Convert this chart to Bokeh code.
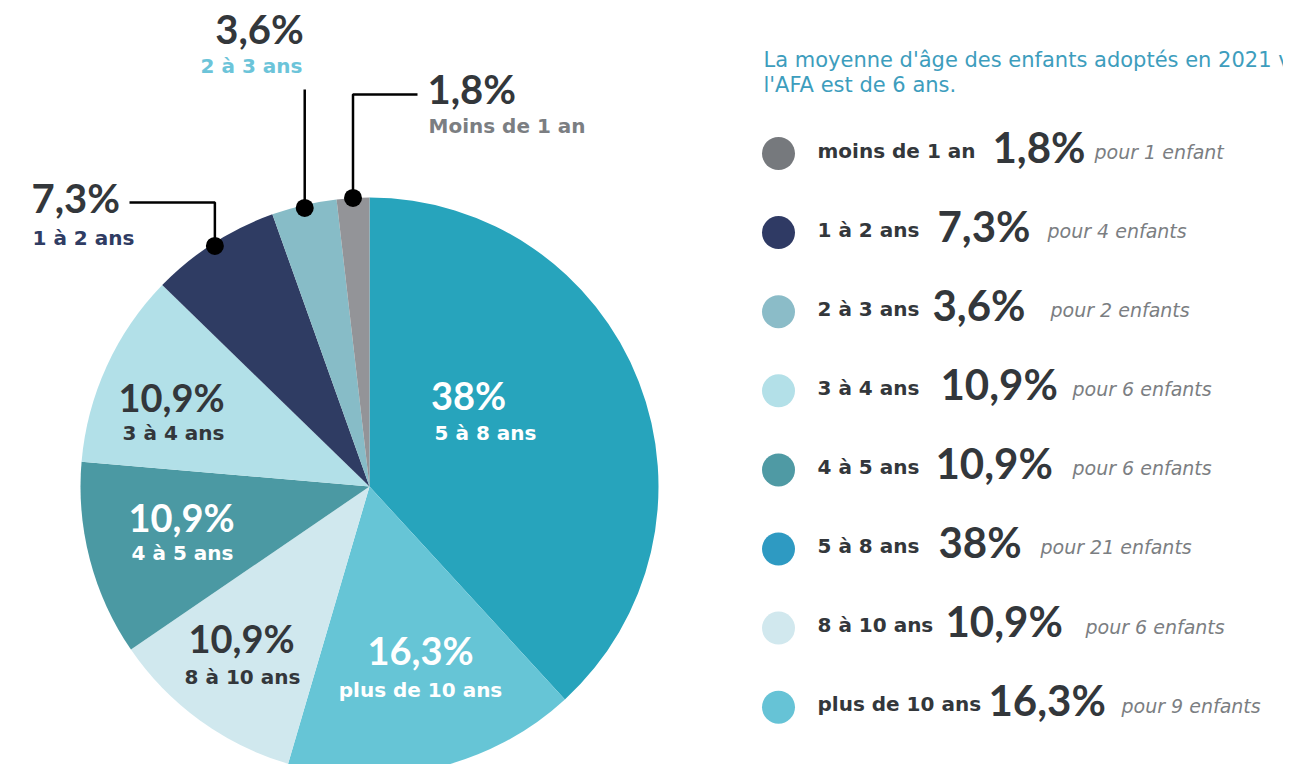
import math
from bokeh.plotting import figure
from bokeh.models import Range1d, ColumnDataSource
from bokeh.core.properties import value
from bokeh.embed import file_html
from bokeh.resources import INLINE

# ---------------- data ----------------
categories = ["moins de 1 an", "1 à 2 ans", "2 à 3 ans", "3 à 4 ans",
              "4 à 5 ans", "5 à 8 ans", "8 à 10 ans", "plus de 10 ans"]
counts = [1, 4, 2, 6, 6, 21, 6, 9]
percent_labels = ["1,8%", "7,3%", "3,6%", "10,9%", "10,9%", "38%", "10,9%", "16,3%"]
legend_notes = ["pour 1 enfant", "pour 4 enfants", "pour 2 enfants", "pour 6 enfants",
                "pour 6 enfants", "pour 21 enfants", "pour 6 enfants", "pour 9 enfants"]
pie_names = ["Moins de 1 an", "1 à 2 ans", "2 à 3 ans", "3 à 4 ans",
             "4 à 5 ans", "5 à 8 ans", "8 à 10 ans", "plus de 10 ans"]
pie_order = ["5 à 8 ans", "plus de 10 ans", "8 à 10 ans", "4 à 5 ans",
             "3 à 4 ans", "1 à 2 ans", "2 à 3 ans", "moins de 1 an"]
title_lines = ["La moyenne d'âge des enfants adoptés en 2021 via",
               "l'AFA est de 6 ans."]

# ---------------- styles ----------------
slice_colors = {
    "moins de 1 an": "#939498", "1 à 2 ans": "#2f3c63", "2 à 3 ans": "#87bcc7",
    "3 à 4 ans": "#b2e0e8", "4 à 5 ans": "#4b99a3", "5 à 8 ans": "#27a4bc",
    "8 à 10 ans": "#d0e8ee", "plus de 10 ans": "#66c5d6",
}
legend_colors = ["#76797d", "#2f3a64", "#8bbcc8", "#b3e0e8",
                 "#4f9aa4", "#2e9ac2", "#d1e8ee", "#66c3d6"]
DARK = "#33373b"
PCT_FONT = value("Lato")
PCT_STYLE = "bold"
LBL_FONT = value("DejaVu Sans")

CX, CY, R = 369, -486, 289
W, H = 1283, 764


def base(y_px, size):
    """data y for a wanted visual baseline at page pixel y_px"""
    return -(y_px - 0.4 * size)


p = figure(width=W, height=H, x_range=Range1d(0, W), y_range=Range1d(-H, 0),
           output_backend="svg", toolbar_location=None, min_border=0,
           x_axis_location=None, y_axis_location=None)
p.grid.visible = False
p.outline_line_color = None
p.background_fill_color = "white"
p.border_fill_color = "white"

# ---------------- pie ----------------
total = sum(counts)
idx = {c: i for i, c in enumerate(categories)}
starts, ends, cols, mids = [], [], [], {}
cum = 0.0
for c in pie_order:
    frac = counts[idx[c]] / total
    a_end = math.pi / 2 - 2 * math.pi * cum
    a_start = math.pi / 2 - 2 * math.pi * (cum + frac)
    starts.append(a_start)
    ends.append(a_end)
    cols.append(slice_colors[c])
    mids[c] = (a_start + a_end) / 2
    cum += frac
p.wedge(x=CX, y=CY, radius=R, start_angle="start", end_angle="end",
        fill_color="color", line_color=None,
        source=ColumnDataSource(dict(start=starts, end=ends, color=cols)))

# inside labels: (category, pct cx, pct baseline, label cx, label baseline, color)
inside = [
    ("5 à 8 ans", 468, 410, 485, 440, "white"),
    ("plus de 10 ans", 420, 665, 420, 697, "white"),
    ("8 à 10 ans", 241, 653, 242, 684, DARK),
    ("4 à 5 ans", 181, 532, 182, 560, "white"),
    ("3 à 4 ans", 171, 412, 173, 440, DARK),
]
p.text(x=[r[1] for r in inside], y=[base(r[2], 38) for r in inside],
       text=[percent_labels[idx[r[0]]] for r in inside],
       text_color=[r[5] for r in inside], text_font=PCT_FONT, text_font_size="38px",
       text_font_style=PCT_STYLE, text_align="center", text_baseline="alphabetic")
p.text(x=[r[3] for r in inside], y=[base(r[4], 20) for r in inside],
       text=[pie_names[idx[r[0]]] for r in inside],
       text_color=[r[5] for r in inside], text_font=LBL_FONT, text_font_size="20px",
       text_font_style="bold", text_align="center", text_baseline="alphabetic")

# outside labels with leader lines
def rim(c, rr=R):
    a = mids[c]
    return CX + rr * math.cos(a), CY + rr * math.sin(a)

dx, dy = rim("moins de 1 an")
p.line(x=[417, dx, dx], y=[-94, -94, dy], line_color="black", line_width=2.5)
p.scatter(x=[dx], y=[dy], size=18, fill_color="black", line_color=None)
dx2, dy2 = rim("2 à 3 ans", R - 3)
p.line(x=[dx2, dx2], y=[-89, dy2], line_color="black", line_width=2.5)
p.scatter(x=[dx2], y=[dy2], size=18, fill_color="black", line_color=None)
dx3, dy3 = rim("1 à 2 ans", R - 3)
p.line(x=[129, dx3, dx3], y=[-202, -202, dy3], line_color="black", line_width=2.5)
p.scatter(x=[dx3], y=[dy3], size=18, fill_color="black", line_color=None)

outside = [
    ("moins de 1 an", 427, 104, 428, 133, "left", "#7b7e82"),
    ("2 à 3 ans", 259, 44, 251, 73, "center", "#6cc4d9"),
    ("1 à 2 ans", 31, 213, 32, 245, "left", "#2f3c63"),
]
for c, px, pb, lx, lb, al, lc in outside:
    p.text(x=[px], y=[base(pb, 40)], text=[percent_labels[idx[c]]], text_color=DARK,
           text_font=PCT_FONT, text_font_size="40px", text_font_style=PCT_STYLE,
           text_align=al, text_baseline="alphabetic")
    p.text(x=[lx], y=[base(lb, 20)], text=[pie_names[idx[c]]], text_color=lc,
           text_font=LBL_FONT, text_font_size="20px", text_font_style="bold",
           text_align=al, text_baseline="alphabetic")

# ---------------- title ----------------
p.text(x=[763, 763], y=[base(68, 21), base(93, 21)], text=title_lines,
       text_color="#3d9dbd", text_font=LBL_FONT, text_font_size="21px",
       text_align="left", text_baseline="alphabetic")

# ---------------- legend ----------------
row_y = [153 + 79.1 * i for i in range(len(categories))]
pct_x = [992, 937, 932, 940, 935, 938, 945, 988]
note_x = [1094, 1047, 1050, 1072, 1072, 1040, 1085, 1121]
p.scatter(x=[778] * len(categories), y=[-y for y in row_y], size=33,
          fill_color=legend_colors, line_color=None)
p.text(x=[817] * len(categories), y=[base(y + 5, 20) for y in row_y], text=categories,
       text_color=DARK, text_font=LBL_FONT, text_font_size="20px",
       text_font_style="bold", text_baseline="alphabetic")
p.text(x=pct_x, y=[base(y + 10, 42) for y in row_y], text=percent_labels,
       text_color=DARK, text_font=PCT_FONT, text_font_size="42px",
       text_font_style=PCT_STYLE, text_baseline="alphabetic")
p.text(x=note_x, y=[base(y + 6, 19) for y in row_y], text=legend_notes,
       text_color="#7b7e82", text_font=LBL_FONT, text_font_size="19px",
       text_font_style="italic", text_baseline="alphabetic")

open("out.html", "w").write(file_html(p, INLINE))
